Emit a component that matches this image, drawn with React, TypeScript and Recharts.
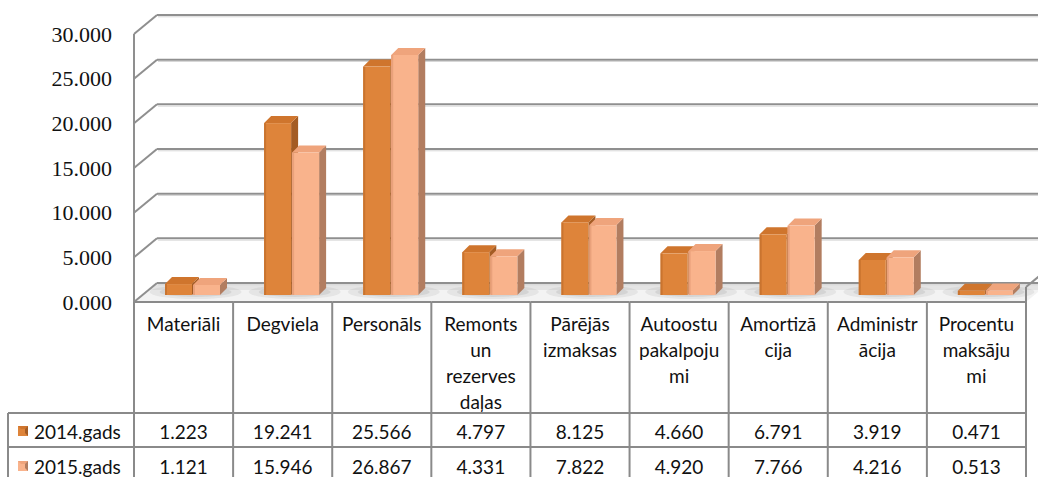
import React from "react";
import { BarChart, Bar, XAxis, YAxis, CartesianGrid } from "recharts";

// izmaksu kategorijas (tūkst.)
const categories = [
  "Materiāli",
  "Degviela",
  "Personāls",
  "Remonts un rezerves daļas",
  "Pārējās izmaksas",
  "Autoostu pakalpojumi",
  "Amortizācija",
  "Administrācija",
  "Procentu maksājumi",
];
// how Excel wrapped the header cells
const headerLines = [
  ["Materiāli"],
  ["Degviela"],
  ["Personāls"],
  ["Remonts", "un", "rezerves", "daļas"],
  ["Pārējās", "izmaksas"],
  ["Autoostu", "pakalpoju", "mi"],
  ["Amortizā", "cija"],
  ["Administr", "ācija"],
  ["Procentu", "maksāju", "mi"],
];
const values2014 = [1.223, 19.241, 25.566, 4.797, 8.125, 4.66, 6.791, 3.919, 0.471];
const values2015 = [1.121, 15.946, 26.867, 4.331, 7.822, 4.92, 7.766, 4.216, 0.513];
const seriesNames = ["2014.gads", "2015.gads"];
const yTicks = [0, 5, 10, 15, 20, 25, 30];

const data = categories.map((name, i) => ({
  name,
  lines: headerLines[i],
  s2014: values2014[i],
  s2015: values2015[i],
}));

const W = 1038;
const H = 477;
const LEFT = 134;
const RIGHT = 12;
const TOP = 27;
const XAXIS_H = 182;
const PLOT_BOTTOM = H - XAXIS_H;
const COL_W = (W - LEFT - RIGHT) / categories.length;

// 3d offsets: front plane is +7 below the bar plane, back wall -12 above, +23 to the right
const FRONT_DY = 7;
const BACK_DY = -12;
const BACK_DX = 23;
const BAR_DX = 9;
const BAR_DEPTH = 7;

const GRID = "#8f8f8f";
const TABLE_LINE = "#8a8a8a";
const TXT_FONT = "Lato, 'Noto Sans', sans-serif";
const TXT_SIZE = 19;

const colors = {
  s2014: { front: "#de843a", top: "#cf752d", side: "#a45c24", edge: "#c9742f" },
  s2015: { front: "#f9b38c", top: "#efa47c", side: "#b27d60", edge: "#e9a17b" },
};

const fmt = (v: number) => v.toFixed(3);

const makeBar = (c: typeof colors.s2014) => (props: any) => {
  const { x, y, width, height } = props;
  if (width == null || height == null) return null;
  const bx = x + BAR_DX;
  const d = BAR_DEPTH;
  return (
    <g>
      <polygon
        points={`${bx + width},${y} ${bx + width + d},${y - d} ${bx + width + d},${y + height - d} ${bx + width},${y + height}`}
        fill={c.side}
      />
      <polygon
        points={`${bx},${y} ${bx + d},${y - d} ${bx + width + d},${y - d} ${bx + width},${y}`}
        fill={c.top}
      />
      <rect x={bx} y={y} width={width} height={height} fill={c.front} />
      <rect x={bx} y={y} width={2} height={height} fill={c.edge} />
    </g>
  );
};

const Floor = ({ x1, x2, y }: { x1: number; x2: number; y: number }) => {
  const fy = y + FRONT_DY;
  const by = y + BACK_DY;
  return (
    <g>
      <polygon
        points={`${x1},${fy} ${x1 + BACK_DX},${by} ${x2 + BACK_DX},${by} ${x2},${fy}`}
        fill="#f3f3f3"
      />
      <polygon
        points={`${x1 + 14},${by + 7} ${x1 + BACK_DX},${by} ${x2 + BACK_DX},${by} ${x2 + 14},${by + 7}`}
        fill="#e4e4e4"
      />
      {categories.map((_, i) => {
        const cx = x1 + COL_W * (i + 0.5) + BAR_DX + 3;
        return (
          <g key={i}>
            <ellipse cx={cx} cy={y - 3} rx={46} ry={7} fill="#9a9a9a" opacity={0.16} />
            <ellipse cx={cx} cy={y - 3} rx={36} ry={5} fill="#8a8a8a" opacity={0.18} />
          </g>
        );
      })}
    </g>
  );
};

const gridLine = (props: any) => {
  const { x1, x2, index } = props;
  const y1 = Number(props.y1);
  const fy = y1 + FRONT_DY;
  const by = y1 + BACK_DY;
  const isFloor = Math.abs(y1 - PLOT_BOTTOM) < 2;
  return (
    <g key={`g-${index}`}>
      {isFloor && <Floor x1={x1} x2={x2} y={y1} />}
      <line x1={x1} y1={fy} x2={x1 + BACK_DX} y2={by} stroke={GRID} strokeWidth={2} />
      <line x1={x1 + BACK_DX} y1={by} x2={x2 + BACK_DX + 20} y2={by} stroke={GRID} strokeWidth={2} />
      <line x1={x1 + BACK_DX + 1} y1={by + 1.8} x2={x2 + BACK_DX + 20} y2={by + 1.8} stroke="#d6d6d6" strokeWidth={1} />
      {isFloor && <line x1={x2} y1={fy - 15} x2={x2 + BACK_DX} y2={by - 15} stroke={GRID} strokeWidth={2} />}
    </g>
  );
};

const YTick = (props: any) => {
  const { x, y, payload } = props;
  return (
    <text
      x={x - 22}
      y={y + FRONT_DY}
      textAnchor="end"
      dominantBaseline="central"
      fontFamily="'Liberation Serif', 'Times New Roman', serif"
      fontSize={22}
      fill="#111"
    >
      {fmt(payload.value)}
    </text>
  );
};

const Marker = ({ x, y, c }: { x: number; y: number; c: typeof colors.s2014 }) => (
  <g>
    <rect x={x} y={y} width={10} height={10} fill={c.front} />
    <polygon points={`${x},${y} ${x + 10},${y} ${x + 7},${y + 3} ${x + 3},${y + 3}`} fill={c.top} />
    <polygon points={`${x + 10},${y} ${x + 10},${y + 10} ${x + 7},${y + 7} ${x + 7},${y + 3}`} fill={c.side} />
  </g>
);

const XTick = (props: any) => {
  const { x, y, index } = props;
  const item = data[index];
  if (!item) return null;
  const top = y + FRONT_DY;
  const row1 = top + 111;
  const row2 = row1 + 34;
  const bottom = H + 10;
  const left = x - COL_W / 2;
  const right = x + COL_W / 2;
  const last = index === data.length - 1;
  const txt = { fontFamily: TXT_FONT, fontSize: TXT_SIZE, fill: "#111" };
  return (
    <g>
      <line x1={left} y1={top} x2={right} y2={top} stroke={TABLE_LINE} strokeWidth={2} />
      <line x1={left} y1={row1} x2={right} y2={row1} stroke={TABLE_LINE} strokeWidth={2} />
      <line x1={left} y1={row2} x2={right} y2={row2} stroke={TABLE_LINE} strokeWidth={2} />
      <line x1={left} y1={top} x2={left} y2={bottom} stroke={TABLE_LINE} strokeWidth={2} />
      {last && <line x1={right} y1={top - 15} x2={right} y2={bottom} stroke={TABLE_LINE} strokeWidth={2} />}
      {item.lines.map((t: string, i: number) => (
        <text key={i} x={x} y={top + 21 + i * 26} textAnchor="middle" dominantBaseline="central" {...txt}>
          {t}
        </text>
      ))}
      <text x={x} y={row1 + 18} textAnchor="middle" dominantBaseline="central" {...txt}>
        {fmt(item.s2014)}
      </text>
      <text x={x} y={row2 + 19} textAnchor="middle" dominantBaseline="central" {...txt}>
        {fmt(item.s2015)}
      </text>
      {index === 0 && (
        <g>
          <line x1={8} y1={row1} x2={left} y2={row1} stroke={TABLE_LINE} strokeWidth={2} />
          <line x1={8} y1={row2} x2={left} y2={row2} stroke={TABLE_LINE} strokeWidth={2} />
          <line x1={8} y1={row1} x2={8} y2={bottom} stroke={TABLE_LINE} strokeWidth={2} />
          <Marker x={18} y={row1 + 13} c={colors.s2014} />
          <Marker x={18} y={row2 + 14} c={colors.s2015} />
          <text x={34} y={row1 + 18} dominantBaseline="central" {...txt}>
            {seriesNames[0]}
          </text>
          <text x={34} y={row2 + 19} dominantBaseline="central" {...txt}>
            {seriesNames[1]}
          </text>
        </g>
      )}
    </g>
  );
};

export default function App() {
  return (
    <div style={{ position: "absolute", left: 0, top: 0, width: W, height: H, background: "#fff" }}>
      <BarChart
        width={W}
        height={H}
        data={data}
        margin={{ top: TOP, right: RIGHT, left: 0, bottom: 0 }}
        barSize={27}
        barGap={1}
      >
        <CartesianGrid vertical={false} horizontal={gridLine} />
        <XAxis
          dataKey="name"
          height={XAXIS_H}
          interval={0}
          axisLine={false}
          tickLine={false}
          tickSize={0}
          tickMargin={0}
          tick={<XTick />}
        />
        <YAxis
          width={LEFT}
          domain={[0, 30]}
          ticks={yTicks}
          interval={0}
          tickLine={false}
          tickSize={0}
          tickMargin={0}
          axisLine={{ stroke: GRID, strokeWidth: 2, transform: `translate(0, ${FRONT_DY})` }}
          tick={<YTick />}
        />
        <Bar dataKey="s2014" name={seriesNames[0]} isAnimationActive={false} shape={makeBar(colors.s2014)} />
        <Bar dataKey="s2015" name={seriesNames[1]} isAnimationActive={false} shape={makeBar(colors.s2015)} />
      </BarChart>
    </div>
  );
}
